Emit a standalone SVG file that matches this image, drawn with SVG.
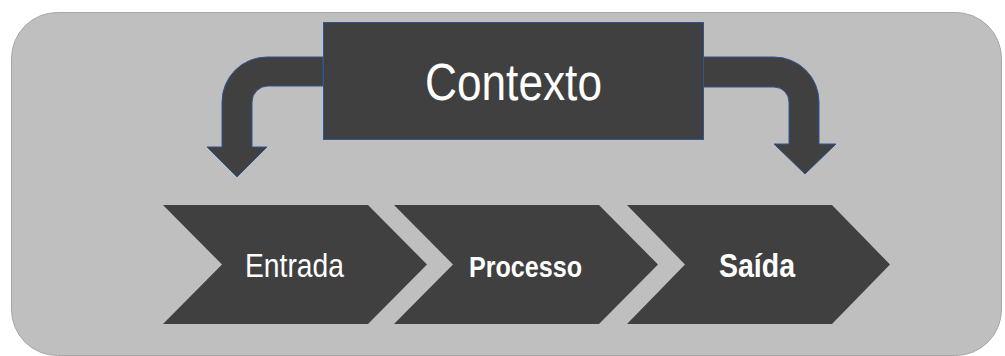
<svg xmlns="http://www.w3.org/2000/svg" width="1005" height="356" viewBox="0 0 1005 356">
<style>
.dark{fill:#404040}
.edge{stroke:#2f5597;stroke-width:1}
.lbl{fill:#ffffff;font-family:"Liberation Sans",Arial,sans-serif;text-anchor:middle}
</style>
<rect width="1005" height="356" fill="#ffffff"/>
<rect id="background" x="11.5" y="12.5" width="990" height="343" rx="46" ry="46" fill="#bfbfbf" stroke="#a6a6a6" stroke-width="1"/>
<g id="connectors">
<path class="dark edge" d="M323,57 L267,57 A45,45 0 0 0 222,102 L222,147 L207,147 L237,177 L267,147 L252,147 L252,102 A16,16 0 0 1 268,86 L323,86 Z"/>
<path class="dark edge" d="M703,57 L774,57 A45,45 0 0 1 819,102 L819,144 L836,144 L805,174 L774,144 L789,144 L789,102 A15,15 0 0 0 774,87 L703,87 Z"/>
</g>
<g id="contexto">
<rect class="dark edge" x="323.5" y="22.5" width="380" height="117"/>
<text class="lbl" x="513.5" y="100" font-size="52" textLength="177" lengthAdjust="spacingAndGlyphs">Contexto</text>
</g>
<g id="entrada">
<polygon class="dark" points="163,205 368,205 427,264.5 368,324 163,324 222,264.5"/>
<text class="lbl" x="294.5" y="277" font-size="34" textLength="99" lengthAdjust="spacingAndGlyphs">Entrada</text>
</g>
<g id="processo">
<polygon class="dark" points="394,205 599,205 658,264.5 599,324 394,324 453,264.5"/>
<text class="lbl" x="525.5" y="277" font-size="30" font-weight="bold" textLength="113" lengthAdjust="spacingAndGlyphs">Processo</text>
</g>
<g id="saida">
<polygon class="dark" points="627,205 832,205 890,264.5 832,324 627,324 685,264.5"/>
<text class="lbl" x="757" y="277" font-size="34" font-weight="bold" textLength="76" lengthAdjust="spacingAndGlyphs">Saída</text>
</g>
</svg>
